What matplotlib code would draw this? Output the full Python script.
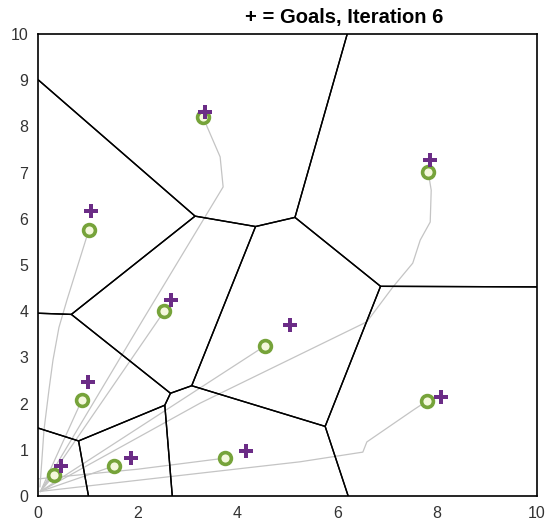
import numpy as np
import matplotlib
matplotlib.use("Agg")
import matplotlib.pyplot as plt
from matplotlib.collections import LineCollection

plt.rcParams['font.family'] = ['Liberation Sans', 'DejaVu Sans']

# Agent positions (green circles)
agent_x = [0.32, 1.52, 3.75, 0.88, 2.53, 4.55, 1.02, 3.31, 7.82, 7.80]
agent_y = [0.45, 0.65, 0.82, 2.08, 4.00, 3.25, 5.76, 8.20, 7.01, 2.06]

# Goals (purple plus)
goal_x = [0.46, 1.86, 4.17, 1.00, 2.67, 5.05, 1.06, 3.35, 7.86, 8.08]
goal_y = [0.65, 0.82, 0.97, 2.47, 4.24, 3.70, 6.17, 8.31, 7.27, 2.14]

# Trajectories (gray), read as waypoints
traj_x = [
    [0.05, 0.32],
    [0.05, 1.52],
    [0.00, 2.0, 3.75],
    [0.05, 0.88],
    [0.05, 2.53],
    [0.05, 4.55],
    [0.04, 0.12, 0.22, 0.30, 0.42, 0.58, 1.02],
    [0.05, 2.10, 3.71, 3.65, 3.39, 3.31],
    [0.05, 3.25, 6.59, 7.11, 7.51, 7.66, 7.86, 7.88, 7.82],
    [0.05, 5.25, 6.51, 6.59, 7.52, 7.80],
]
traj_y = [
    [0.10, 0.45],
    [0.10, 0.65],
    [0.37, 0.58, 0.82],
    [0.10, 2.08],
    [0.10, 4.00],
    [0.10, 3.25],
    [0.20, 1.43, 2.30, 2.94, 3.65, 4.24, 5.76],
    [0.10, 3.81, 6.69, 7.34, 7.99, 8.20],
    [0.10, 2.01, 3.77, 4.52, 5.04, 5.54, 5.93, 6.62, 7.01],
    [0.10, 0.74, 0.95, 1.17, 1.86, 2.06],
]

xlim = (0, 10)
ylim = (0, 10)


def voronoi_edges(px, py, box):
    pts = np.column_stack([px, py]).astype(float)
    x0, x1, y0, y1 = box
    edges = []
    for i, p in enumerate(pts):
        poly = [np.array([x0, y0]), np.array([x1, y0]), np.array([x1, y1]), np.array([x0, y1])]
        for j, q in enumerate(pts):
            if i == j:
                continue
            n = q - p
            m = (p + q) / 2
            new = []
            L = len(poly)
            for k in range(L):
                a = poly[k]
                b = poly[(k + 1) % L]
                da = np.dot(a - m, n)
                db = np.dot(b - m, n)
                if da <= 0:
                    new.append(a)
                if (da < 0 < db) or (db < 0 < da):
                    t = da / (da - db)
                    new.append(a + t * (b - a))
            poly = new
        L = len(poly)
        for k in range(L):
            a = poly[k]
            b = poly[(k + 1) % L]
            on_bd = False
            for c, v in ((0, x0), (0, x1), (1, y0), (1, y1)):
                if abs(a[c] - v) < 1e-9 and abs(b[c] - v) < 1e-9:
                    on_bd = True
            if not on_bd and np.linalg.norm(a - b) > 1e-9:
                edges.append([tuple(a), tuple(b)])
    return edges


fig = plt.figure(figsize=(5.46, 5.28), dpi=100)
ax = fig.add_axes([38 / 546, 32 / 528, 499 / 546, 462 / 528])

for tx, ty in zip(traj_x, traj_y):
    ax.plot(tx, ty, color='#c4c4c4', lw=0.9, zorder=1)

edges = voronoi_edges(agent_x, agent_y, (xlim[0], xlim[1], ylim[0], ylim[1]))
ax.add_collection(LineCollection(edges, colors='black', linewidths=1.0, zorder=2))

ax.plot(agent_x, agent_y, linestyle='none', marker='o', markersize=8.5,
        markerfacecolor='#f4f8dc', markeredgecolor='#76a33a', markeredgewidth=2.6, zorder=3)
ax.plot(goal_x, goal_y, linestyle='none', marker='P', markersize=10,
        color='#6b2c86', markeredgewidth=0, zorder=4)

ax.set_xlim(*xlim)
ax.set_ylim(*ylim)
ax.set_xticks(range(0, 11, 2))
ax.set_yticks(range(0, 11, 1))
ax.tick_params(length=0, labelsize=11.5, labelcolor='#333333', pad=7)
for s in ax.spines.values():
    s.set_color('black')
    s.set_linewidth(1.2)

fig.text(344 / 546, 1 - 17 / 528, '+ = Goals, Iteration 6', ha='center', va='center',
         fontsize=14.5, fontweight='bold')

fig.savefig('out.png', dpi=100)
